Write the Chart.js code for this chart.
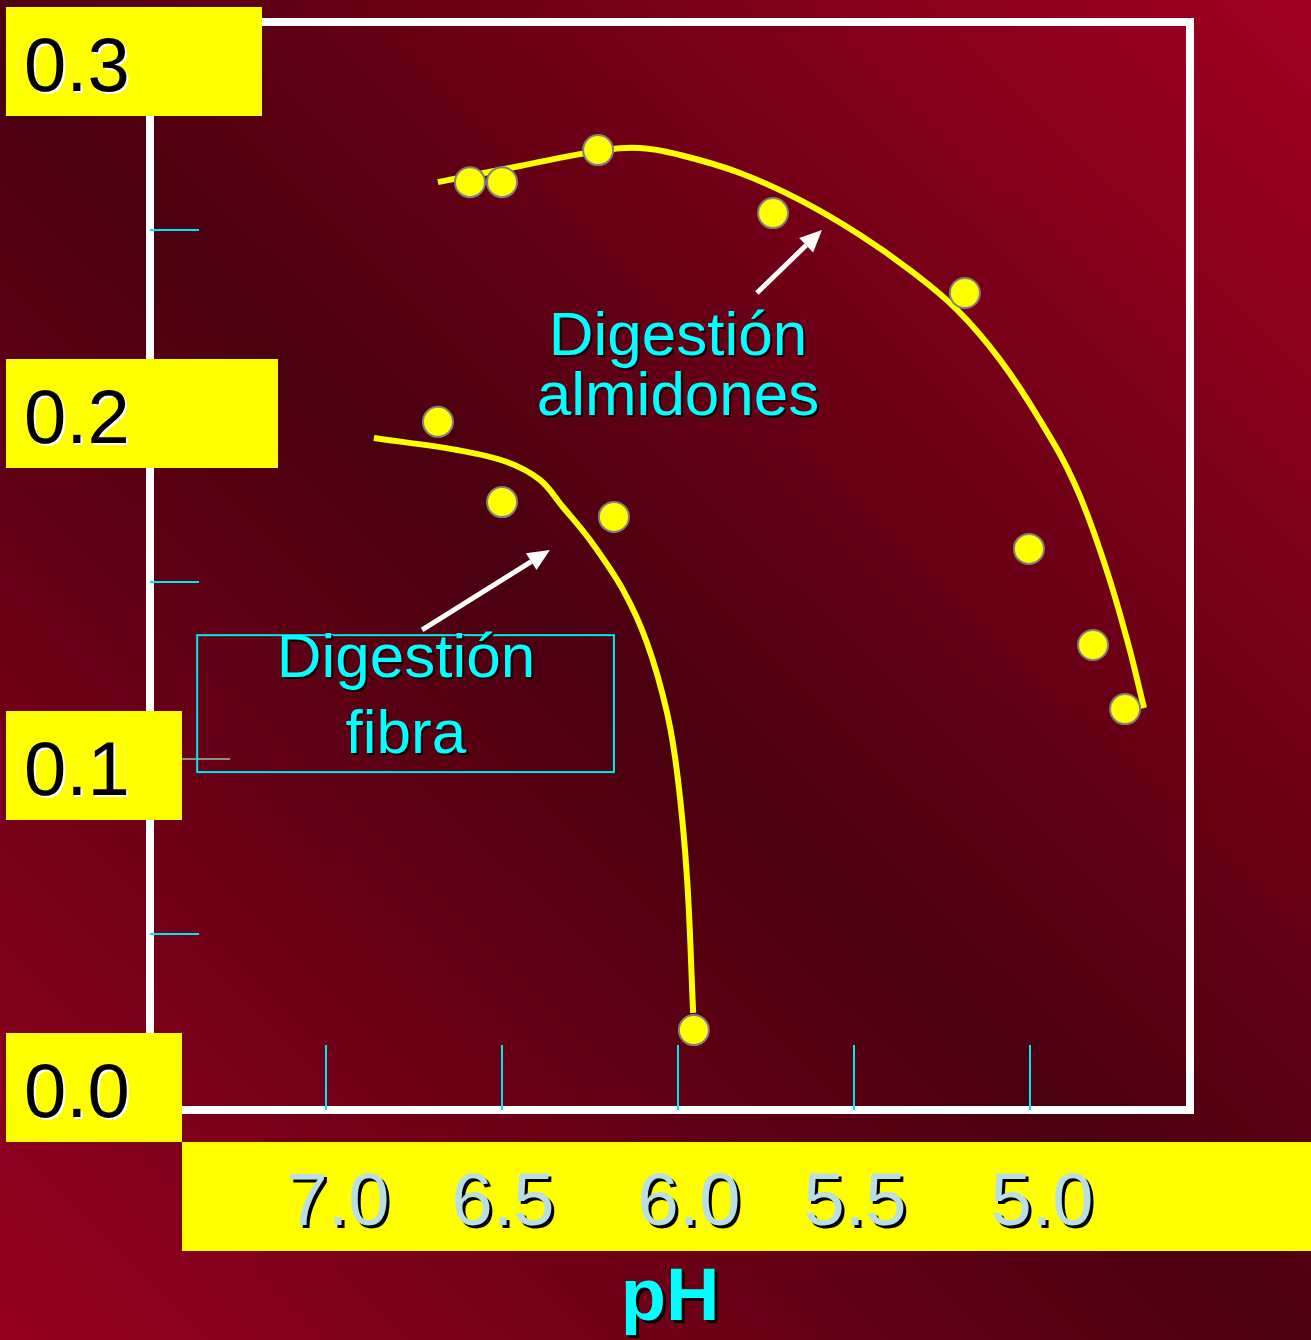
<!DOCTYPE html>
<html><head><meta charset="utf-8">
<script src="https://cdn.jsdelivr.net/npm/chart.js@4/dist/chart.umd.min.js"></script>
<style>html,body{margin:0;padding:0;background:#5a0014;overflow:hidden}canvas{display:block}</style>
</head><body><canvas id="c" width="1311" height="1340"></canvas>
<script>
// ---- data ----
const xTickValues = [7.0, 6.5, 6.0, 5.5, 5.0];
const xTickLabels = ['7.0', '6.5', '6.0', '5.5', '5.0'];
const yTickValues = [0.0, 0.1, 0.2, 0.3];
const yTickLabels = ['0.0', '0.1', '0.2', '0.3'];
const yMinorTicks = [0.05, 0.15, 0.25];
const xTitle = 'pH';

const almidonesPH  = [6.591, 6.500, 6.227, 5.730, 5.185, 5.003, 4.821, 4.730];
const almidonesVal = [0.2636, 0.2636, 0.2727, 0.2548, 0.2321, 0.1594, 0.1321, 0.1139];
const fibraPH  = [6.682, 6.500, 6.182, 5.955];
const fibraVal = [0.1955, 0.1727, 0.1685, 0.0227];

const almidonesCurvePH  = [6.682, 6.449, 6.227, 6.108, 5.994, 5.824, 5.653, 5.483, 5.341, 5.207, 5.085, 4.972, 4.872, 4.787, 4.724, 4.676];
const almidonesCurveVal = [0.2636, 0.2682, 0.2724, 0.2733, 0.2713, 0.2662, 0.2585, 0.2486, 0.2386, 0.2273, 0.2131, 0.1960, 0.1776, 0.1548, 0.1335, 0.1142];
const fibraCurvePH  = [6.864, 6.628, 6.486, 6.392, 6.327, 6.250, 6.156, 6.088, 6.031, 6.000, 5.974, 5.957];
const fibraCurveVal = [0.1909, 0.1875, 0.1841, 0.1790, 0.1713, 0.1619, 0.1477, 0.1327, 0.1128, 0.0938, 0.0653, 0.0276];

const almidonesLabel = ['Digestión', 'almidones'];
const fibraLabel = ['Digestión', 'fibra'];

const xMin = 4.5455, xMax = 7.5, yMin = 0, yMax = 0.30909;

const pts = (xs, ys) => xs.map((x, i) => ({x: x, y: ys[i]}));

// ---- styling / annotation anchors (data units) ----
const FONT = '"Liberation Sans", Arial, Helvetica, sans-serif';
const yBoxWidths = [176, 176, 272, 256];
const xLabelShift = [12, 1, 11, 1, 12];
const annot = {
  almText: {x: 6.0, y: 0.2145},
  fibText: {x: 6.773, y: 0.1230},
  fibRect: {x1: 7.366, x2: 6.182, y1: 0.1349, y2: 0.0960},
  almArrow: {x1: 5.776, y1: 0.2321, x2: 5.591, y2: 0.2500},
  fibArrow: {x1: 6.727, y1: 0.1364, x2: 6.364, y2: 0.1591}
};

function arrow(ctx, x1, y1, x2, y2) {
  const a = Math.atan2(y2 - y1, x2 - x1);
  const hl = 22, hw = 10;
  const bx = x2 - hl * Math.cos(a), by = y2 - hl * Math.sin(a);
  ctx.save();
  ctx.strokeStyle = '#ffffff'; ctx.fillStyle = '#ffffff'; ctx.lineWidth = 5;
  ctx.beginPath(); ctx.moveTo(x1, y1); ctx.lineTo(bx, by); ctx.stroke();
  ctx.beginPath();
  ctx.moveTo(x2, y2);
  ctx.lineTo(bx + hw * Math.sin(a), by - hw * Math.cos(a));
  ctx.lineTo(bx - hw * Math.sin(a), by + hw * Math.cos(a));
  ctx.closePath(); ctx.fill();
  ctx.restore();
}

const deco = {
  id: 'deco',
  beforeDraw(chart) {
    const {ctx, width, height} = chart;
    const g = ctx.createLinearGradient(width, 0, 0, height);
    g.addColorStop(0, '#a20022');
    g.addColorStop(0.52, '#4a000f');
    g.addColorStop(1, '#960020');
    ctx.save(); ctx.fillStyle = g; ctx.fillRect(0, 0, width, height); ctx.restore();
  },
  beforeDatasetsDraw(chart) {
    const {ctx, chartArea: a, scales: {x, y}} = chart;
    ctx.save();
    // frame
    ctx.strokeStyle = '#ffffff'; ctx.lineWidth = 8;
    ctx.strokeRect(a.left, a.top, a.right - a.left, a.bottom - a.top);
    // y minor ticks
    ctx.strokeStyle = '#00e8f0'; ctx.lineWidth = 2;
    yMinorTicks.forEach(v => {
      const py = Math.round(y.getPixelForValue(v));
      ctx.beginPath(); ctx.moveTo(a.left, py); ctx.lineTo(a.left + 49, py); ctx.stroke();
    });
    // gray 0.1 tick
    ctx.strokeStyle = '#8c8c8c';
    const p1 = Math.round(y.getPixelForValue(0.1)) + 1;
    ctx.beginPath(); ctx.moveTo(a.left, p1); ctx.lineTo(a.left + 80, p1); ctx.stroke();
    // x ticks
    ctx.strokeStyle = '#00e8f0';
    xTickValues.forEach(v => {
      const px = Math.round(x.getPixelForValue(v));
      ctx.beginPath(); ctx.moveTo(px, a.bottom - 65); ctx.lineTo(px, a.bottom); ctx.stroke();
    });
    ctx.restore();
  },
  afterDatasetsDraw(chart) {
    const {ctx, scales: {x, y}} = chart;
    ctx.save();
    // fibra rect
    const r = annot.fibRect;
    const rx1 = x.getPixelForValue(r.x1), rx2 = x.getPixelForValue(r.x2);
    const ry1 = y.getPixelForValue(r.y1), ry2 = y.getPixelForValue(r.y2);
    ctx.strokeStyle = '#00e8f0'; ctx.lineWidth = 2;
    ctx.strokeRect(rx1, ry1, rx2 - rx1, ry2 - ry1);
    // arrows
    [annot.almArrow, annot.fibArrow].forEach(ar => {
      arrow(ctx, x.getPixelForValue(ar.x1), y.getPixelForValue(ar.y1), x.getPixelForValue(ar.x2), y.getPixelForValue(ar.y2));
    });
    // texts
    ctx.font = '62px ' + FONT;
    ctx.textAlign = 'center'; ctx.textBaseline = 'alphabetic';
    ctx.shadowColor = 'rgba(0,0,0,0.9)'; ctx.shadowOffsetX = 2; ctx.shadowOffsetY = 2; ctx.shadowBlur = 0;
    ctx.fillStyle = '#00ffff';
    const ax = x.getPixelForValue(annot.almText.x), ay = y.getPixelForValue(annot.almText.y);
    almidonesLabel.forEach((t, i) => ctx.fillText(t, ax, ay + i * 60));
    const fx = x.getPixelForValue(annot.fibText.x), fy = y.getPixelForValue(annot.fibText.y);
    fibraLabel.forEach((t, i) => ctx.fillText(t, fx, fy + i * 76));
    ctx.restore();
  },
  afterDraw(chart) {
    const {ctx, width, chartArea: a, scales: {x, y}} = chart;
    ctx.save();
    const bandTop = a.bottom + 32, bandH = 109;
    // x band
    ctx.fillStyle = '#ffff00';
    ctx.fillRect(182, bandTop, width - 182, bandH);
    // y boxes
    yTickValues.forEach((v, i) => {
      let cy = y.getPixelForValue(v) + 7.5;
      if (cy + bandH / 2 > bandTop) cy = bandTop - bandH / 2;
      const top = cy - bandH / 2;
      ctx.fillStyle = '#ffff00';
      ctx.fillRect(6, top, yBoxWidths[i], bandH);
      ctx.font = '76px ' + FONT;
      ctx.textAlign = 'left'; ctx.textBaseline = 'alphabetic';
      ctx.shadowColor = '#ffffff'; ctx.shadowOffsetX = 2; ctx.shadowOffsetY = 2; ctx.shadowBlur = 0;
      ctx.fillStyle = '#000000';
      ctx.fillText(yTickLabels[i], 24, cy + 29.5);
      ctx.shadowColor = 'transparent';
    });
    // x labels
    ctx.font = '74px ' + FONT;
    ctx.textAlign = 'center'; ctx.textBaseline = 'alphabetic';
    ctx.shadowColor = '#000000'; ctx.shadowOffsetX = 3; ctx.shadowOffsetY = 3; ctx.shadowBlur = 0;
    ctx.fillStyle = '#b9dfe4';
    xTickValues.forEach((v, i) => {
      ctx.fillText(xTickLabels[i], x.getPixelForValue(v) + xLabelShift[i], bandTop + 83);
    });
    // x title
    ctx.font = 'bold 74px ' + FONT;
    ctx.fillStyle = '#00ffff';
    ctx.fillText(xTitle, (a.left + a.right) / 2, bandTop + 178);
    ctx.restore();
  }
};

new Chart(document.getElementById('c'), {
  type: 'scatter',
  data: {
    datasets: [
      {label: 'Almidones', data: pts(almidonesPH, almidonesVal), order: 0,
       pointRadius: 15, pointBackgroundColor: '#ffff00', pointBorderColor: '#808080', pointBorderWidth: 2, showLine: false},
      {label: 'Fibra', data: pts(fibraPH, fibraVal), order: 0,
       pointRadius: 15, pointBackgroundColor: '#ffff00', pointBorderColor: '#808080', pointBorderWidth: 2, showLine: false},
      {label: 'Curva almidones', data: pts(almidonesCurvePH, almidonesCurveVal), order: 1,
       showLine: true, pointRadius: 0, borderColor: '#ffff00', borderWidth: 6, tension: 0.4, fill: false},
      {label: 'Curva fibra', data: pts(fibraCurvePH, fibraCurveVal), order: 1,
       showLine: true, pointRadius: 0, borderColor: '#ffff00', borderWidth: 6, tension: 0.35, fill: false}
    ]
  },
  options: {
    responsive: false, animation: false, events: [],
    layout: {padding: {left: 150, right: 121, top: 22, bottom: 230}},
    scales: {
      x: {type: 'linear', reverse: true, min: xMin, max: xMax, display: false},
      y: {type: 'linear', min: yMin, max: yMax, display: false}
    },
    plugins: {legend: {display: false}, tooltip: {enabled: false}},
    clip: false
  },
  plugins: [deco]
});
</script>
</body></html>
